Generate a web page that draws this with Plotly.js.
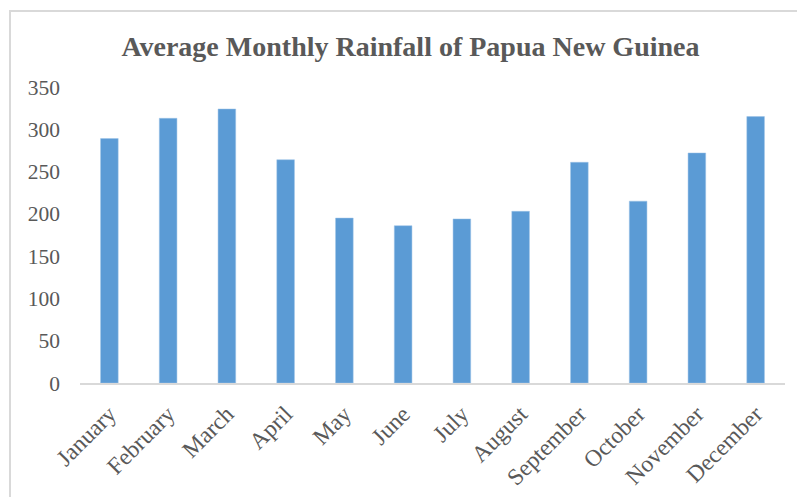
<!DOCTYPE html>
<html>
<head>
<meta charset="utf-8">
<script src="https://cdn.plot.ly/plotly-3.0.1.min.js"></script>
<style>
  html, body { margin: 0; padding: 0; background: #fff; }
  #wrap { position: relative; width: 797px; height: 497px; overflow: hidden; }
  #chart { width: 797px; height: 497px; }
  #frame { position: absolute; left: 9px; top: 10px; width: 800px; height: 500px;
           border-top: 2px solid #d9d9d9; border-left: 2px solid #d9d9d9; pointer-events: none; }
</style>
</head>
<body>
<div id="wrap">
  <div id="chart"></div>
  <div id="frame"></div>
</div>
<script>
const months = ["January", "February", "March", "April", "May", "June",
                "July", "August", "September", "October", "November", "December"];
const rainfall = [289, 313, 324, 264, 195, 186, 194, 203, 261, 215, 272, 315];
const yTicks = [0, 50, 100, 150, 200, 250, 300, 350];
const chartTitle = "Average Monthly Rainfall of Papua New Guinea";

const serif = "Liberation Serif, Times New Roman, serif";
const grey = "#595959";

Plotly.newPlot("chart", [{
  type: "bar",
  x: months,
  y: rainfall,
  marker: { color: "#5b9bd5", line: { color: "#9dc3e6", width: 0.5 } },
  hoverinfo: "x+y"
}], {
  width: 797, height: 497,
  margin: { l: 80, r: 12, t: 87, b: 114 },
  paper_bgcolor: "#ffffff",
  plot_bgcolor: "#ffffff",
  bargap: 0.7,
  showlegend: false,
  title: {
    text: "<b>" + chartTitle + "</b>",
    font: { family: serif, size: 28, color: grey },
    x: 0.515, xanchor: "center", y: 0.907, yanchor: "middle"
  },
  xaxis: {
    type: "category",
    tickangle: -45,
    tickfont: { family: serif, size: 23.5, color: grey },
    showline: true, linecolor: "#d9d9d9", linewidth: 2,
    showgrid: false, zeroline: false,
    ticks: "", ticklabelstandoff: 6
  },
  yaxis: {
    range: [0, 350],
    tickvals: yTicks,
    ticktext: yTicks.map(String),
    tickfont: { family: serif, size: 21.5, color: grey },
    showgrid: false, zeroline: false, showline: false,
    ticks: "", ticklabelstandoff: 19
  }
}, { displayModeBar: false, staticPlot: true });
</script>
</body>
</html>
